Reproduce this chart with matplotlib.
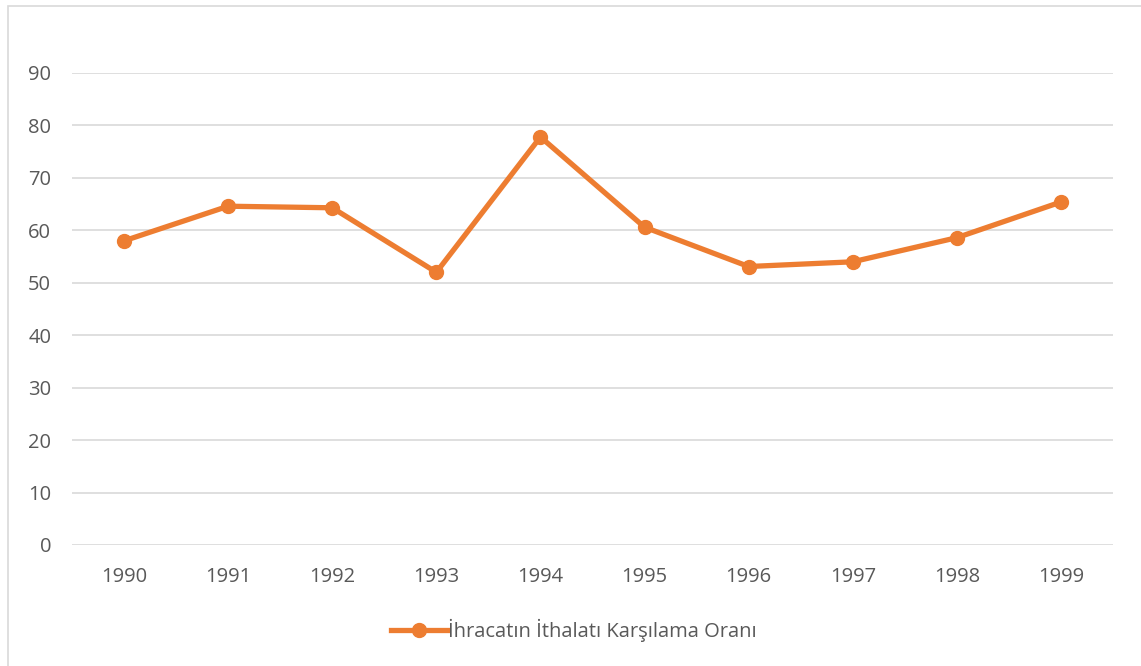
import matplotlib
matplotlib.use("Agg")
import matplotlib.pyplot as plt
from matplotlib.patches import Rectangle

plt.rcParams["font.family"] = ["Open Sans", "DejaVu Sans"]

years = ["1990", "1991", "1992", "1993", "1994", "1995", "1996", "1997", "1998", "1999"]
oran = [58.0, 64.6, 64.3, 52.0, 77.8, 60.6, 53.1, 54.0, 58.6, 65.4]
series_name = "İhracatın İthalatı Karşılama Oranı"

ORANGE = "#ED7D31"
GRID = "#D9D9D9"
TEXT = "#595959"

fig = plt.figure(figsize=(11.41, 6.66), dpi=100)
fig.patch.set_facecolor("white")

# chart border
fig.patches.append(Rectangle((8 / 1141, -0.01), 1.0, 1 - 6 / 666 + 0.01,
                             transform=fig.transFigure, fill=False,
                             edgecolor=GRID, linewidth=1.2))

ax = fig.add_axes([72 / 1141, 1 - 545 / 666, (1113 - 72) / 1141, (545 - 73) / 666])
x = list(range(len(years)))
ax.plot(x, oran, "-o", color=ORANGE, linewidth=3.8, markersize=10,
        label=series_name, zorder=3, clip_on=False)

ax.set_xlim(-0.5, len(years) - 0.5)
ax.set_ylim(0, 90)
ax.set_yticks(range(0, 91, 10))
ax.set_xticks(x)
ax.set_xticklabels(years)
ax.grid(axis="y", color=GRID, linewidth=1.2)
ax.set_axisbelow(True)
for s in ax.spines.values():
    s.set_visible(False)
ax.tick_params(length=0, labelsize=14.5, labelcolor=TEXT)
ax.tick_params(axis="y", pad=15)
ax.tick_params(axis="x", pad=16)

fig.legend(loc="center", bbox_to_anchor=(574 / 1141, 1 - 630 / 666),
           frameon=False, fontsize=14.5, labelcolor=TEXT,
           handlelength=2.8, handletextpad=0.05)

fig.savefig("out.png", dpi=100, facecolor="white")
